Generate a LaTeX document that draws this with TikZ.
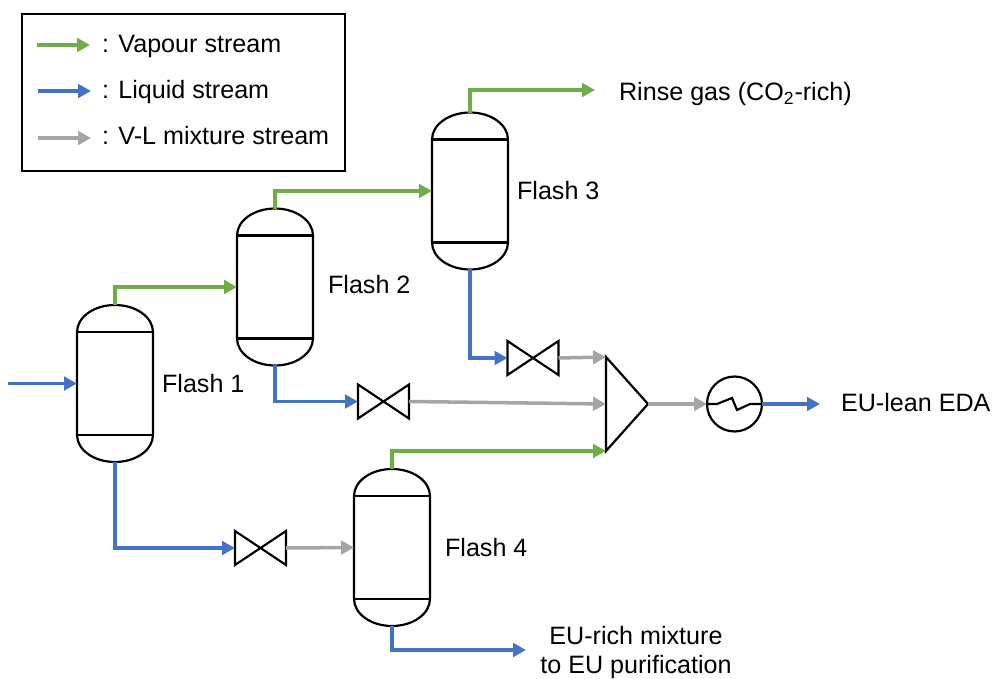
\documentclass[tikz,border=0pt]{standalone}
\usepackage{fontspec}
\setmainfont{Liberation Sans}
\usepackage{xcolor}
\usetikzlibrary{arrows.meta,positioning}

\definecolor{vapourgreen}{HTML}{6FAD45}
\definecolor{liquidblue}{HTML}{4472C4}
\definecolor{mixgray}{HTML}{A5A5A5}

\tikzset{
    stream/.style={line width=2pt, -{Triangle[length=.26cm, width=.27cm]}},
    vapour/.style={stream, draw=vapourgreen},
    liquid/.style={stream, draw=liquidblue},
    mixture/.style={stream, draw=mixgray},
    lbl/.style={inner sep=0pt, font=\fontsize{14.3}{17}\selectfont},
    flash/.style={minimum width=1.52cm, minimum height=3.14cm, inner sep=0pt, outer sep=0pt,
        append after command={\pgfextra{
            \draw ([yshift=-.54cm]\tikzlastnode.north west)
                arc[start angle=180, end angle=0, x radius=.76cm, y radius=.54cm]
                -- ([yshift=.54cm]\tikzlastnode.south east)
                arc[start angle=0, end angle=-180, x radius=.76cm, y radius=.54cm]
                -- cycle;
            \draw ([yshift=-.54cm]\tikzlastnode.north west) -- ([yshift=-.54cm]\tikzlastnode.north east);
            \draw ([yshift=.54cm]\tikzlastnode.south west) -- ([yshift=.54cm]\tikzlastnode.south east);
        }}},
    valve/.style={minimum width=1.02cm, minimum height=.68cm, inner sep=0pt, outer sep=0pt,
        append after command={\pgfextra{
            \draw (\tikzlastnode.north west) -- (\tikzlastnode.south east)
                -- (\tikzlastnode.north east) -- (\tikzlastnode.south west) -- cycle;
        }}},
    mixer/.style={minimum width=.84cm, minimum height=1.88cm, inner sep=0pt, outer sep=0pt,
        append after command={\pgfextra{
            \draw (\tikzlastnode.north west) -- (\tikzlastnode.east)
                -- (\tikzlastnode.south west) -- cycle;
        }}},
    heater/.style={circle, draw, minimum size=1.1cm, inner sep=0pt, outer sep=0pt,
        append after command={\pgfextra{
            \draw (\tikzlastnode.west) -- ++(.2cm,0) -- ++(.3cm,.12cm) -- ++(.1cm,-.24cm)
                -- ++(.26cm,.12cm) -- (\tikzlastnode.east);
        }}},
}

\begin{document}
\begin{tikzpicture}[x=.02cm, y=-.02cm, line width=1.25pt]
    \useasboundingbox (0,0) rectangle (992,679);

    % legend
    \node[draw, line width=.9pt, minimum width=6.46cm, minimum height=3.14cm, inner sep=0pt] (legend) at (183.5,92.5) {};
    \coordinate (vapa) at (37,45);
    \coordinate (vapb) at (90,45);
    \coordinate (liqa) at (38,91);
    \coordinate (liqb) at (91,91);
    \coordinate (mixa) at (38,138);
    \coordinate (mixb) at (91,138);
    \draw[vapour] (vapa) -- (vapb);
    \draw[liquid] (liqa) -- (liqb);
    \draw[mixture] (mixa) -- (mixb);
    \node[lbl, anchor=base west] (vaplbl) at (101,53) {: Vapour stream};
    \node[lbl, anchor=base west] (liqlbl) at (101,99) {: Liquid stream};
    \node[lbl, anchor=base west] (mixlbl) at (101,145) {: V-L mixture stream};

    % units
    \node[flash] (F1) at (115,383.5) {};
    \node[flash] (F2) at (275,287) {};
    \node[flash] (F3) at (470,191) {};
    \node[flash] (F4) at (392,547.5) {};
    \node[valve] (V1) at (260.5,548) {};
    \node[valve] (V2) at (383.5,401.5) {};
    \node[valve] (V3) at (533,358) {};
    \node[mixer] (M) at (627,404) {};
    \node[heater] (H) at (734.5,404) {};

    \node[lbl, right=.16cm of F1] (F1lbl) {Flash 1};
    \node[lbl, right=.28cm of F2, yshift=.04cm] (F2lbl) {Flash 2};
    \node[lbl, right=.16cm of F3] (F3lbl) {Flash 3};
    \node[lbl, right=.28cm of F4] (F4lbl) {Flash 4};

    % free ends
    \coordinate (feed) at (8,383.5);
    \coordinate (rinse) at (595,90);
    \coordinate (lean) at (820,404);
    \coordinate (rich) at (526,650);
    \node[lbl, anchor=base west] (rinselbl) at (618,101) {Rinse gas (CO\textsubscript{2}-rich)};
    \node[lbl, anchor=base west] (leanlbl) at (840,412) {EU-lean EDA};
    \node[lbl, align=center] (richlbl) at (636,652.5) {EU-rich mixture\\to EU purification};

    % streams
    \draw[liquid] (feed) -- (F1.west);
    \draw[vapour] (F1.north) |- (F2.west);
    \draw[vapour] (F2.north) |- (F3.west);
    \draw[vapour] (F3.north) |- (rinse);
    \draw[vapour] (F4.north) |- (M.south west);
    \draw[liquid] (F1.south) |- (V1.west);
    \draw[liquid] (F2.south) |- (V2.west);
    \draw[liquid] (F3.south) |- (V3.west);
    \draw[liquid] (F4.south) |- (rich);
    \draw[mixture] (V1.east) -- (F4.west);
    \draw[mixture] (V2.east) -- (M.west);
    \draw[mixture] (V3.east) -- (M.north west);
    \draw[mixture] (M.east) -- (H.west);
    \draw[liquid] (H.east) -- (lean);
\end{tikzpicture}
\end{document}
